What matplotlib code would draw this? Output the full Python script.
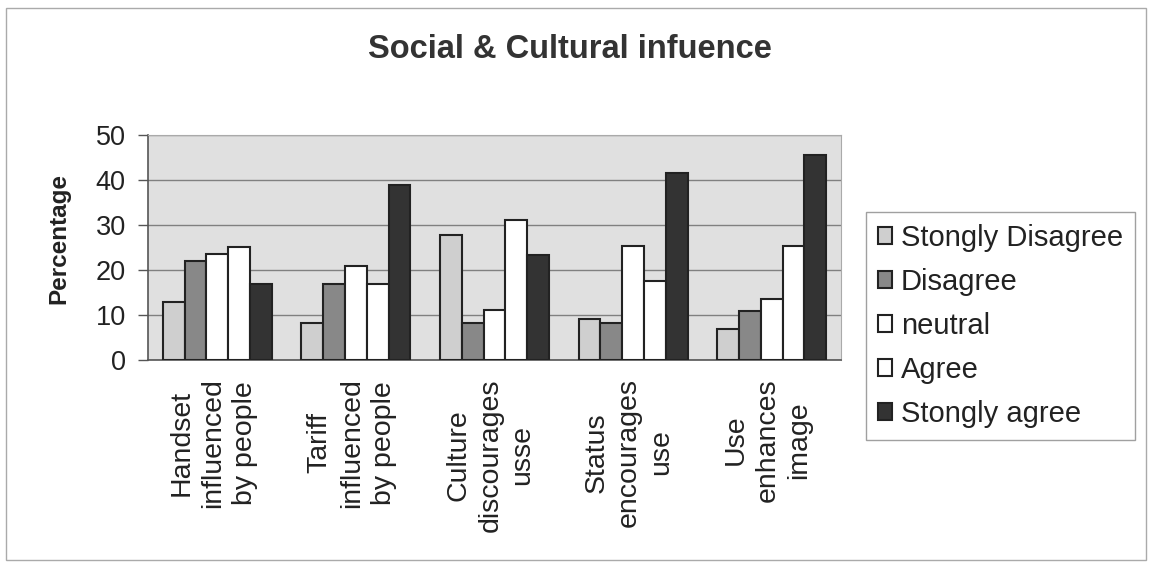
import matplotlib
matplotlib.use("Agg")
import matplotlib.pyplot as plt
import numpy as np
from matplotlib.patches import Rectangle

categories = ["Handset\ninfluenced\nby people", "Tariff\ninfluenced\nby people",
              "Culture\ndiscourages\nusse", "Status\nencourages\nuse", "Use\nenhances\nimage"]
series_names = ["Stongly Disagree", "Disagree", "neutral", "Agree", "Stongly agree"]
strongly_disagree = [12.8, 8.2, 27.7, 9.2, 6.9]
disagree = [22.1, 16.9, 8.3, 8.3, 10.8]
neutral = [23.5, 20.9, 11.1, 25.3, 13.6]
agree = [25.1, 16.9, 31.2, 17.5, 25.3]
strongly_agree = [16.9, 38.9, 23.4, 41.5, 45.5]
yticks = [0, 10, 20, 30, 40, 50]

series = [strongly_disagree, disagree, neutral, agree, strongly_agree]
colors = ["#cfcfcf", "#888888", "#ffffff", "#ffffff", "#333333"]

plt.rcParams['font.family'] = ['Liberation Sans', 'DejaVu Sans']

fig = plt.figure(figsize=(11.54, 5.64), dpi=100)
fig.patches.append(Rectangle((0.005, 0.007), 0.988, 0.978, transform=fig.transFigure,
                             fill=False, edgecolor="#aaaaaa", linewidth=1))
ax = fig.add_axes([148/1154, 1 - 360/564, (841-148)/1154, (360-135)/564])
ax.set_facecolor("#e0e0e0")

x = np.arange(len(categories))
w = 0.157
for i, (vals, c) in enumerate(zip(series, colors)):
    ax.bar(x + (i - 2) * w, vals, width=w, color=c, edgecolor="#222222",
           linewidth=1.5, label=series_names[i], zorder=3)

ax.set_xlim(-0.5, len(categories) - 0.5)
ax.set_ylim(0, 50)
ax.set_yticks(yticks)
ax.set_yticklabels([str(v) for v in yticks], fontsize=19.5, color="#222222")
ax.yaxis.grid(True, color="#808080", linewidth=1, zorder=1)
ax.set_axisbelow(True)
ax.tick_params(axis='y', length=7, width=1, color="#555555", pad=9)
ax.set_xticks([])
for s in ["top", "right"]:
    ax.spines[s].set_color("#aaaaaa")
for s in ["left", "bottom"]:
    ax.spines[s].set_color("#555555")
    ax.spines[s].set_linewidth(1.2)

for xi, lab in zip(x, categories):
    ax.text(xi - 0.03, -0.08, lab, rotation=90, ha='center', va='top', multialignment='center',
            fontsize=20.5, transform=ax.get_xaxis_transform(), linespacing=1.3,
            color="#222222")

ax.set_ylabel("Percentage", fontsize=17.5, fontweight='bold', color="#222222")
ax.yaxis.set_label_coords(-0.112, 0.54)
fig.text(0.494, 1 - 50/564, "Social & Cultural infuence", ha='center', va='center',
         fontsize=23.5, fontweight='bold', color="#333333")

leg = fig.legend(loc='upper left', bbox_to_anchor=(866/1154, 1 - 212/564), frameon=True,
                 fontsize=21, handlelength=0.5, handleheight=0.5, handletextpad=0.3,
                 labelspacing=0.55, borderpad=0.4, borderaxespad=0, fancybox=False,
                 edgecolor="#888888")
leg.get_frame().set_linewidth(1)
for t in leg.get_texts():
    t.set_color("#222222")

fig.savefig("out.png", dpi=100)
